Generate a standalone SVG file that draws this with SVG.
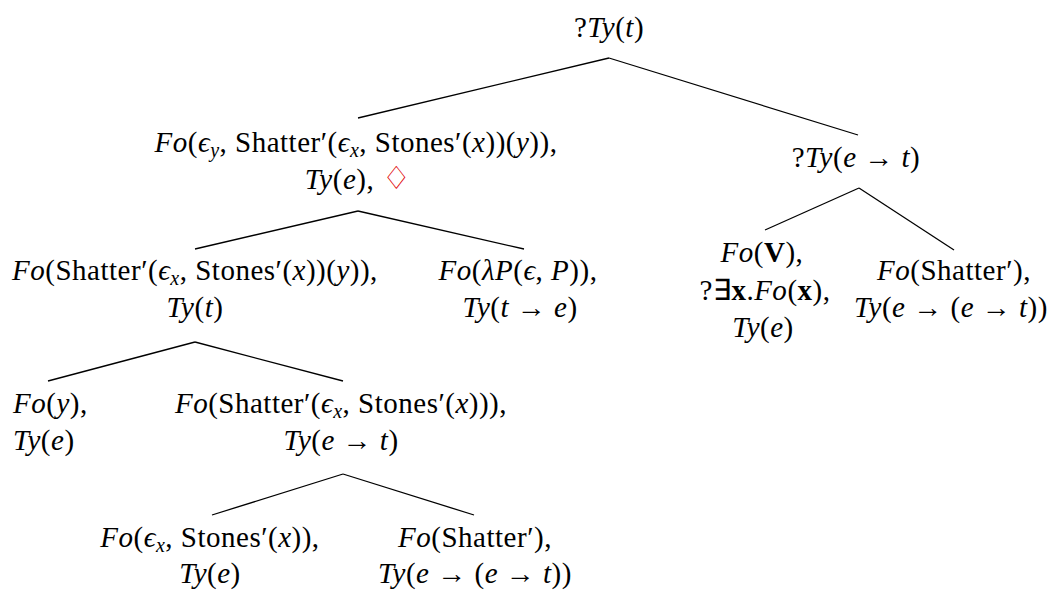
<svg xmlns="http://www.w3.org/2000/svg" width="1049" height="590" viewBox="0 0 1049 590">
<style>
.c line{stroke:#000;stroke-width:1.3;fill:none}
</style>
<rect width="1049" height="590" fill="#fff"/>
<g class="c" id="connectors">
<line x1="609" y1="58" x2="358" y2="118"/>
<line x1="609" y1="58" x2="858" y2="135"/>
<line x1="358" y1="211" x2="195" y2="249"/>
<line x1="358" y1="211" x2="524" y2="249"/>
<line x1="195" y1="342" x2="48" y2="381"/>
<line x1="195" y1="342" x2="343" y2="381"/>
<line x1="343" y1="474" x2="212" y2="515"/>
<line x1="343" y1="474" x2="474" y2="515"/>
<line x1="859" y1="188" x2="765" y2="230"/>
<line x1="859" y1="188" x2="954" y2="250"/>
</g>
<g id="nodes" font-family="'Liberation Serif', 'Times New Roman', serif" font-size="29" letter-spacing="0.5" text-anchor="middle" fill="#000">
<g id="n-root"><text font-family="'Liberation Serif', 'Times New Roman', serif" x="609" y="37">?<tspan font-style="italic">Ty</tspan>(<tspan font-style="italic">t</tspan>)</text></g>
<g id="n-subj">
<text font-family="'Liberation Serif', 'Times New Roman', serif" x="356" y="152"><tspan font-style="italic">Fo</tspan>(<tspan font-style="italic">ϵ</tspan><tspan font-style="italic" font-size="20" dy="5">y</tspan><tspan dy="-5">, Shatter′(</tspan><tspan font-style="italic">ϵ</tspan><tspan font-style="italic" font-size="20" dy="5">x</tspan><tspan dy="-5">, Stones′(</tspan><tspan font-style="italic">x</tspan>))(<tspan font-style="italic">y</tspan>)),</text>
<text font-family="'Liberation Serif', 'Times New Roman', serif" x="358" y="189"><tspan font-style="italic">Ty</tspan>(<tspan font-style="italic">e</tspan>), <tspan fill="#e00000" font-size="32" font-family="DejaVu Sans">♢</tspan></text>
</g>
<g id="n-t">
<text font-family="'Liberation Serif', 'Times New Roman', serif" x="195" y="280"><tspan font-style="italic">Fo</tspan>(Shatter′(<tspan font-style="italic">ϵ</tspan><tspan font-style="italic" font-size="20" dy="5">x</tspan><tspan dy="-5">, Stones′(</tspan><tspan font-style="italic">x</tspan>))(<tspan font-style="italic">y</tspan>)),</text>
<text font-family="'Liberation Serif', 'Times New Roman', serif" x="195" y="317"><tspan font-style="italic">Ty</tspan>(<tspan font-style="italic">t</tspan>)</text>
</g>
<g id="n-lambda">
<text font-family="'Liberation Serif', 'Times New Roman', serif" x="518" y="280"><tspan font-style="italic">Fo</tspan>(<tspan font-style="italic">λP</tspan>(<tspan font-style="italic">ϵ</tspan>, <tspan font-style="italic">P</tspan>)),</text>
<text font-family="'Liberation Serif', 'Times New Roman', serif" x="520" y="317"><tspan font-style="italic">Ty</tspan>(<tspan font-style="italic">t</tspan> → <tspan font-style="italic">e</tspan>)</text>
</g>
<g id="n-y">
<text font-family="'Liberation Serif', 'Times New Roman', serif" text-anchor="start" x="13" y="413"><tspan font-style="italic">Fo</tspan>(<tspan font-style="italic">y</tspan>),</text>
<text font-family="'Liberation Serif', 'Times New Roman', serif" text-anchor="start" x="13" y="450"><tspan font-style="italic">Ty</tspan>(<tspan font-style="italic">e</tspan>)</text>
</g>
<g id="n-pred">
<text font-family="'Liberation Serif', 'Times New Roman', serif" x="341" y="413"><tspan font-style="italic">Fo</tspan>(Shatter′(<tspan font-style="italic">ϵ</tspan><tspan font-style="italic" font-size="20" dy="5">x</tspan><tspan dy="-5">, Stones′(</tspan><tspan font-style="italic">x</tspan>))),</text>
<text font-family="'Liberation Serif', 'Times New Roman', serif" x="341" y="450"><tspan font-style="italic">Ty</tspan>(<tspan font-style="italic">e</tspan> → <tspan font-style="italic">t</tspan>)</text>
</g>
<g id="n-obj">
<text font-family="'Liberation Serif', 'Times New Roman', serif" x="210" y="547"><tspan font-style="italic">Fo</tspan>(<tspan font-style="italic">ϵ</tspan><tspan font-style="italic" font-size="20" dy="5">x</tspan><tspan dy="-5">, Stones′(</tspan><tspan font-style="italic">x</tspan>)),</text>
<text font-family="'Liberation Serif', 'Times New Roman', serif" x="210" y="583"><tspan font-style="italic">Ty</tspan>(<tspan font-style="italic">e</tspan>)</text>
</g>
<g id="n-verb">
<text font-family="'Liberation Serif', 'Times New Roman', serif" x="475" y="547"><tspan font-style="italic">Fo</tspan>(Shatter′),</text>
<text font-family="'Liberation Serif', 'Times New Roman', serif" x="475" y="583"><tspan font-style="italic">Ty</tspan>(<tspan font-style="italic">e</tspan> → (<tspan font-style="italic">e</tspan> → <tspan font-style="italic">t</tspan>))</text>
</g>
<g id="n-req">
<text font-family="'Liberation Serif', 'Times New Roman', serif" x="856" y="167">?<tspan font-style="italic">Ty</tspan>(<tspan font-style="italic">e</tspan> → <tspan font-style="italic">t</tspan>)</text>
</g>
<g id="n-meta">
<text font-family="'Liberation Serif', 'Times New Roman', serif" x="762" y="262"><tspan font-style="italic">Fo</tspan>(<tspan font-weight="bold">V</tspan>),</text>
<text font-family="'Liberation Serif', 'Times New Roman', serif" x="765" y="300">?∃<tspan font-weight="bold">x</tspan>.<tspan font-style="italic">Fo</tspan>(<tspan font-weight="bold">x</tspan>),</text>
<text font-family="'Liberation Serif', 'Times New Roman', serif" x="763" y="337"><tspan font-style="italic">Ty</tspan>(<tspan font-style="italic">e</tspan>)</text>
</g>
<g id="n-shatter">
<text font-family="'Liberation Serif', 'Times New Roman', serif" x="954" y="280"><tspan font-style="italic">Fo</tspan>(Shatter′),</text>
<text font-family="'Liberation Serif', 'Times New Roman', serif" x="951" y="317"><tspan font-style="italic">Ty</tspan>(<tspan font-style="italic">e</tspan> → (<tspan font-style="italic">e</tspan> → <tspan font-style="italic">t</tspan>))</text>
</g>
</g>
</svg>
